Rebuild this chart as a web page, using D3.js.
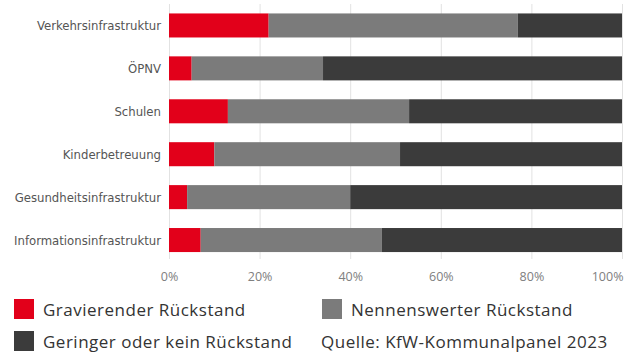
<!DOCTYPE html>
<html>
<head>
<meta charset="utf-8">
<script src="https://cdn.jsdelivr.net/npm/d3@7"></script>
<style>
  body { margin: 0; background: #fff; }
  svg { display: block; }
</style>
</head>
<body>
<svg id="chart" width="636" height="354"></svg>
<script>
var categories = ["Verkehrsinfrastruktur", "ÖPNV", "Schulen", "Kinderbetreuung", "Gesundheitsinfrastruktur", "Informationsinfrastruktur"]
var gravierend = [22, 5, 13, 10, 4, 7]
var nennenswert = [55, 29, 40, 41, 36, 40]
var gering = [23, 66, 47, 49, 60, 53]
var seriesNames = ["Gravierender Rückstand", "Nennenswerter Rückstand", "Geringer oder kein Rückstand"]
var tickValues = [0, 20, 40, 60, 80, 100]
var source = "Quelle: KfW-Kommunalpanel 2023"

var colors = ["#e2001a", "#7b7b7b", "#3b3b3b"]

var svg = d3.select("#chart")
var left = 169, right = 622

var x = d3.scaleLinear().domain([0, 100]).range([left, right])
var y = d3.scaleBand()
  .domain(categories)
  .range([4, 261.5])
  .paddingInner(0.44)
  .paddingOuter(0.22)

// gridlines
svg.append("g")
  .selectAll("line")
  .data(tickValues)
  .enter()
  .append("line")
  .attr("x1", function(d) { return x(d) + 0.5 })
  .attr("x2", function(d) { return x(d) + 0.5 })
  .attr("y1", 4)
  .attr("y2", 259)
  .attr("stroke", "#e2e2e2")
  .attr("stroke-width", 1)

var stackData = categories.map(function(c, i) {
  return { cat: c, g: gravierend[i], n: nennenswert[i], k: gering[i] }
})
var stack = d3.stack().keys(["g", "n", "k"])(stackData)

svg.append("g")
  .selectAll("g")
  .data(stack)
  .enter()
  .append("g")
  .attr("fill", function(d, i) { return colors[i] })
  .selectAll("rect")
  .data(function(d) { return d })
  .enter()
  .append("rect")
  .attr("x", function(d) { return x(d[0]) })
  .attr("width", function(d) { return x(d[1]) - x(d[0]) })
  .attr("y", function(d) { return y(d.data.cat) })
  .attr("height", y.bandwidth())

// category labels
svg.append("g")
  .selectAll("text")
  .data(categories)
  .enter()
  .append("text")
  .attr("x", left - 8)
  .attr("y", function(d) { return y(d) + y.bandwidth() / 2 })
  .attr("dy", "0.35em")
  .attr("text-anchor", "end")
  .attr("font-family", "'Liberation Sans Narrow', 'DejaVu Sans Condensed', sans-serif")
  .attr("font-size", "13px")
  .attr("fill", "#555")
  .text(function(d) { return d })

// x axis labels
var xAxis = svg.append("g")
  .attr("transform", "translate(0,259)")
  .call(d3.axisBottom(x).tickValues(tickValues).tickSize(0).tickPadding(13)
    .tickFormat(function(d) { return d + "%" }))
xAxis.select(".domain").remove()
xAxis.selectAll("text")
  .attr("font-family", "'Open Sans', sans-serif")
  .attr("font-size", "12.5px")
  .attr("fill", "#808080")
  .attr("text-anchor", function(d) { return d === 100 ? "end" : "middle" })
  .attr("dx", function(d) { return d === 100 ? 1 : 0 })

// legend
var legendItems = [
  { label: seriesNames[0], color: colors[0], x: 14, y: 299 },
  { label: seriesNames[1], color: colors[1], x: 322, y: 299 },
  { label: seriesNames[2], color: colors[2], x: 14, y: 331 }
]
var legend = svg.append("g")
legend.selectAll("rect")
  .data(legendItems)
  .enter()
  .append("rect")
  .attr("x", function(d) { return d.x })
  .attr("y", function(d) { return d.y })
  .attr("width", 20)
  .attr("height", 20)
  .attr("fill", function(d) { return d.color })
legend.selectAll("text")
  .data(legendItems)
  .enter()
  .append("text")
  .attr("x", function(d) { return d.x + 29 })
  .attr("y", function(d) { return d.y + 17 })
  .attr("font-family", "'Open Sans', sans-serif")
  .attr("font-size", "17px")
  .attr("letter-spacing", "0.5px")
  .attr("fill", "#333")
  .text(function(d) { return d.label })

svg.append("text")
  .attr("x", 321)
  .attr("y", 348)
  .attr("font-family", "'Open Sans', sans-serif")
  .attr("font-size", "17px")
  .attr("letter-spacing", "0.5px")
  .attr("fill", "#333")
  .text(source)
</script>
</body>
</html>
